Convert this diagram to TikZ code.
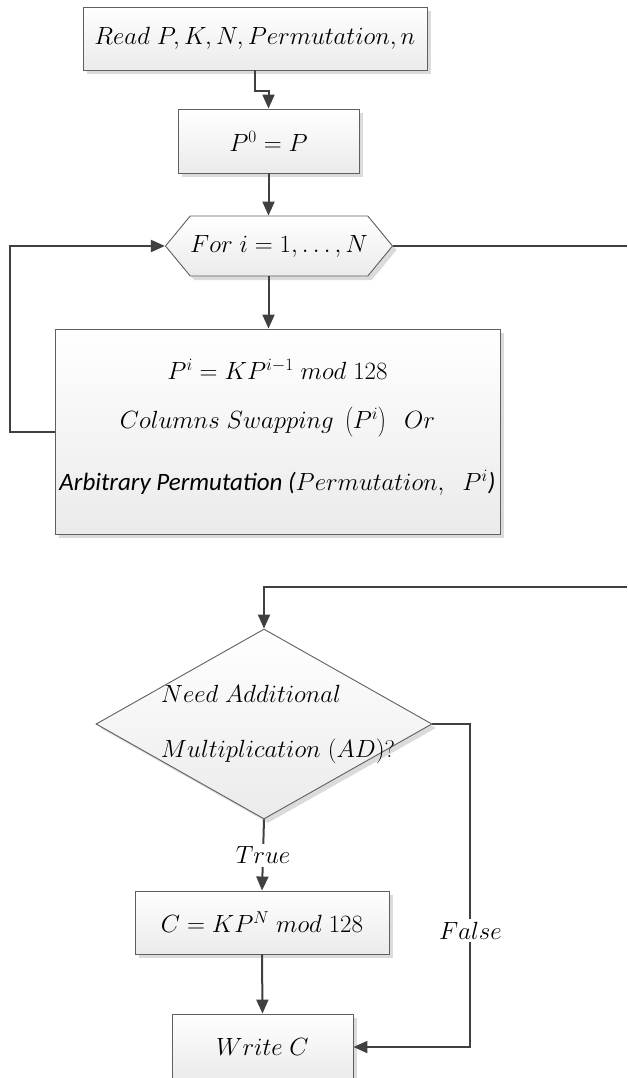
\documentclass[tikz,border=0pt]{standalone}
\usepackage{fontspec}
\newfontfamily\calib{Carlito}[ItalicFont={Carlito Italic}]
\usetikzlibrary{arrows.meta,shapes.geometric,shapes.symbols,shadows}
\definecolor{lin}{HTML}{404040}
\definecolor{brd}{HTML}{5F5F5F}
\tikzset{
  boxbase/.style={draw=brd, line width=0.9pt, top color=white, bottom color=black!8,
    drop shadow={shadow xshift=4pt, shadow yshift=-4pt, fill=black!14, opacity=1},
    inner sep=0pt, font=\fontsize{24}{29}\selectfont},
  procbox/.style={boxbase, rectangle},
  arr/.style={draw=lin, line width=2pt, -{Triangle[length=14pt,width=12pt]}},
  plain/.style={draw=lin, line width=2pt},
  lbl/.style={fill=white, inner sep=3pt, font=\fontsize{24}{29}\selectfont}
}
\begin{document}
\begin{tikzpicture}[x=1pt,y=-1pt]
\useasboundingbox (0,0) rectangle (627,1078);
\clip (0,0) rectangle (627,1078);
\node[procbox, minimum width=344pt, minimum height=63pt] (read) at (255,38.5)
  {$Read\;P,K,N,Permutation,n$};
\node[procbox, minimum width=181pt, minimum height=64pt] (p0) at (268.5,141)
  {$P^0=P$};
\node[boxbase, signal, signal to=east and west, signal pointer angle=101,
  minimum width=216pt, minimum height=60pt] (forn) at (279,246)
  {$For\;i=1,\dots,N$};
\node[procbox, minimum width=445pt, minimum height=205pt, align=center] (big) at (277.5,431.5)
  {$P^i=KP^{i-1}\;mod\;128$\\[20pt]
   $Columns\;Swapping\;\left(P^i\right)\;\;Or$\\[32pt]
   {\calib\itshape\fontsize{25}{29}\selectfont Arbitrary Permutation (}$Permutation,\;\;P^i${\calib\itshape\fontsize{25}{29}\selectfont )}\\[-16pt]\mbox{}};
\node[boxbase, diamond, minimum width=336pt, minimum height=190pt,
  label={[align=left, font=\fontsize{24}{29}\selectfont, xshift=14pt]center:$Need\;Additional$\\[26pt]$Multiplication\;(AD)$?}] (dec) at (264,724) {};
\node[procbox, minimum width=254pt, minimum height=63pt] (cbox) at (262,922.5)
  {$C=KP^N\;mod\;128$};
\node[procbox, minimum width=181pt, minimum height=66pt] (write) at (262.5,1047)
  {$Write\;C$};
\coordinate (rexit) at (627,246);
\coordinate (rentry) at (627,587);
\draw[arr] (read.south) -- ++(0,21) -| (p0.north);
\draw[arr] (p0.south) -- (p0.south |- forn.north);
\draw[arr] (p0.south |- forn.south) -- (p0.south |- big.north);
\draw[arr] (big.west) -- ++(-45,0) |- (forn.west);
\draw[plain] (forn.east) -- (rexit);
\draw[arr] (rentry) -| (dec.north);
\draw[arr] (dec.south) -- node[lbl]{$True$} (cbox.north);
\draw[arr] (cbox.south) -- (write.north);
\draw[arr] (dec.east) -- ++(38,0) |- node[lbl, pos=0.32]{$False$} (write.east);
\end{tikzpicture}
\end{document}
